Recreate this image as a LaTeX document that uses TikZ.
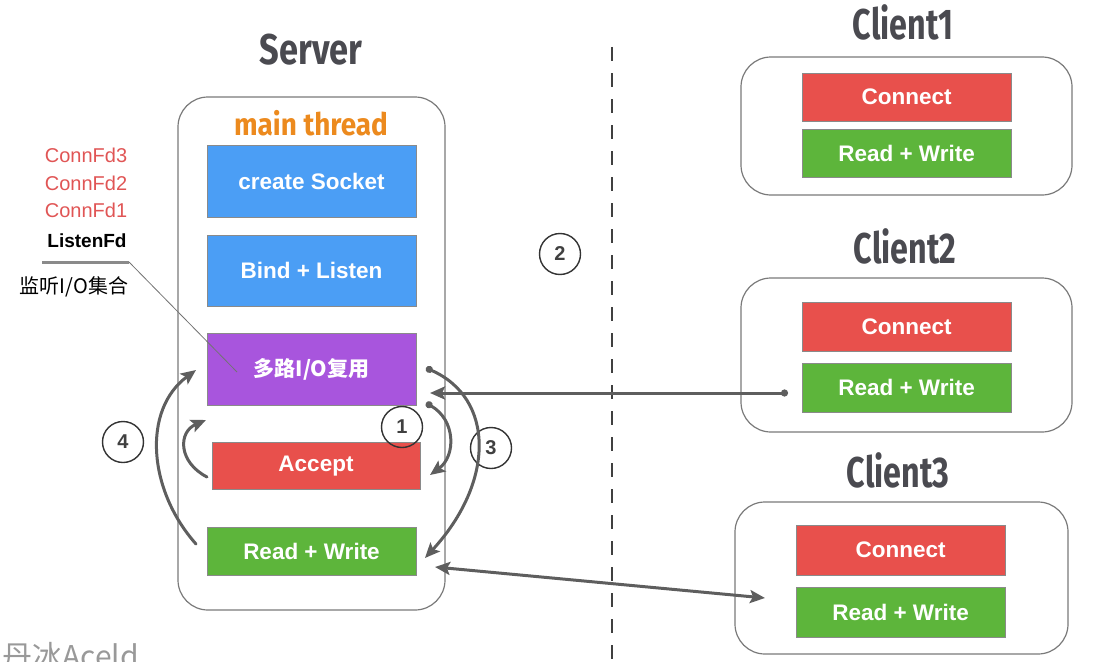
\documentclass[tikz,border=0pt]{standalone}
\usepackage{fontspec}
\setmainfont{Liberation Sans}
\newfontfamily\cjk{Noto Sans CJK SC}
\newfontfamily\hand{Fira Sans}
\usetikzlibrary{arrows.meta}
\definecolor{cblue}{HTML}{4B9EF5}
\definecolor{cpurple}{HTML}{A855DD}
\definecolor{cred}{HTML}{E8504C}
\definecolor{cgreen}{HTML}{5DB53B}
\definecolor{corange}{HTML}{EC8A1E}
\definecolor{ctitle}{HTML}{4A4A50}
\definecolor{cframe}{HTML}{7A7A7A}
\definecolor{cedge}{HTML}{8A8A8A}
\definecolor{carrow}{HTML}{5E5E5E}
\definecolor{cfd}{HTML}{E05555}
\begin{document}
\begin{tikzpicture}[x=1pt,y=-1pt,
  frame/.style={draw=cframe,line width=1.2pt,rounded corners=30pt,inner sep=0pt},
  blk/.style={draw=cedge,line width=1pt,inner sep=0pt,text=white,
    font=\bfseries\fontsize{22.5}{26}\selectfont,minimum width=209pt},
  ttl/.style={text=ctitle,inner sep=0pt,font=\hand\bfseries\fontsize{43}{46}\selectfont},
  fd/.style={inner sep=0pt,font=\fontsize{20}{22}\selectfont},
  num/.style={circle,draw=black!80,line width=1.4pt,minimum size=41pt,inner sep=0pt,
    text=black!75,font=\bfseries\fontsize{20}{24}\selectfont},
  arr/.style={draw=carrow,line width=3pt,line cap=round,
    -{Stealth[length=15pt,width=13pt,inset=3pt]}},
  dotarr/.style={arr,{Circle[length=7pt]}-{Stealth[length=15pt,width=13pt,inset=3pt]}}
]
\useasboundingbox (0,0) rectangle (1113,661);
\clip (0,0) rectangle (1113,661);

% dashed divider
\draw[draw=black!75,line width=2.5pt,dash pattern=on 14pt off 12pt] (612,47) -- (612,661);

% Server
\node[ttl] (server) at (311,50) {\scalebox{0.8}[1]{Server}};
\node[frame,minimum width=267pt,minimum height=513pt] (sframe) at (311.5,353.5) {};
\node[inner sep=0pt,text=corange,font=\hand\bfseries\fontsize{31}{34}\selectfont] (mt) at (311,123) {\scalebox{0.9}[1]{main thread}};
\node[blk,fill=cblue,minimum height=72pt] (sock) at (311.5,181) {create Socket};
\node[blk,fill=cblue,minimum height=71pt] (bind) at (311.5,270.5) {Bind + Listen};
\node[blk,fill=cpurple,minimum height=72pt,font=\cjk\bfseries\fontsize{21}{25}\selectfont] (mux) at (311.5,369) {多路I/O复用};
\node[blk,fill=cred,minimum width=208pt,minimum height=47pt] (acc) at (316,466) {Accept};
\node[blk,fill=cgreen,minimum height=48pt] (srw) at (311.5,551) {Read + Write};

% fd list
\node[fd,text=cfd] (fd3) at (86,155) {ConnFd3};
\node[fd,text=cfd] (fd2) at (86,183) {ConnFd2};
\node[fd,text=cfd] (fd1) at (86,210) {ConnFd1};
\node[fd,text=black,font=\bfseries\fontsize{19}{22}\selectfont] (lfd) at (87,241) {ListenFd};
\coordinate (barL) at (42,262);
\coordinate (barR) at (129,262);
\draw[draw=cedge,line width=3pt] (barL) -- (barR);
\node[fd,text=black,font=\cjk\fontsize{20}{22}\selectfont] (set) at (74,287) {监听I/O集合};
\coordinate (lead) at (237,372);
\draw[draw=black!55,line width=0.8pt] (barR) -- (lead);

% Clients
\node[ttl] (c1t) at (903,22) {\scalebox{0.75}[1]{Client1}};
\node[frame,minimum width=331pt,minimum height=138pt] (c1) at (906.5,126) {};
\node[blk,fill=cred,minimum height=48pt] (c1con) at (906.5,97) {Connect};
\node[blk,fill=cgreen,minimum height=48pt] (c1rw) at (906.5,153) {Read + Write};

\node[ttl] (c2t) at (905,246) {\scalebox{0.75}[1]{Client2}};
\node[frame,minimum width=331pt,minimum height=154pt] (c2) at (906.5,355) {};
\node[blk,fill=cred,minimum height=49pt] (c2con) at (906.5,326.5) {Connect};
\node[blk,fill=cgreen,minimum height=49pt] (c2rw) at (906.5,387.5) {Read + Write};

\node[ttl] (c3t) at (898,470) {\scalebox{0.75}[1]{Client3}};
\node[frame,minimum width=333pt,minimum height=152pt] (c3) at (901.5,578) {};
\node[blk,fill=cred,minimum height=50pt] (c3con) at (900.5,550) {Connect};
\node[blk,fill=cgreen,minimum height=50pt] (c3rw) at (900.5,612) {Read + Write};

% numbers
\node[num] (n1) at (402,427) {1};
\node[num] (n2) at (560,254) {2};
\node[num] (n3) at (491,448) {3};
\node[num] (n4) at (123,442) {4};

% connectors
\coordinate (c2out) at (788,393);
\coordinate (muxin) at (430,393);
\draw[dotarr] (c2out) -- (muxin);

\coordinate (rwio) at (435,567);
\coordinate (c3io) at (765,598);
\draw[arr,{Stealth[length=15pt,width=13pt,inset=3pt]}-{Stealth[length=15pt,width=13pt,inset=3pt]}] (rwio) -- (c3io);

\coordinate (m3) at (426,368);
\coordinate (rwin) at (425,558);
\draw[dotarr] (m3) .. controls (495,398) and (495,482) .. (rwin);

\coordinate (m1) at (426,403);
\coordinate (accin) at (430,475);
\draw[dotarr] (m1) .. controls (456,420) and (456,456) .. (accin);

\coordinate (rwout) at (196,544);
\coordinate (muxl) at (196,370);
\draw[arr] (rwout) .. controls (148,490) and (142,410) .. (muxl);

\coordinate (accout) at (207,477);
\coordinate (muxlb) at (206,420);
\draw[arr] (accout) .. controls (178,462) and (178,432) .. (muxlb);

% watermark
\node[anchor=west,inner sep=0pt,text=black!40,font=\cjk\fontsize{30}{34}\selectfont] (wm) at (2,656) {丹冰Aceld};
\end{tikzpicture}
\end{document}
